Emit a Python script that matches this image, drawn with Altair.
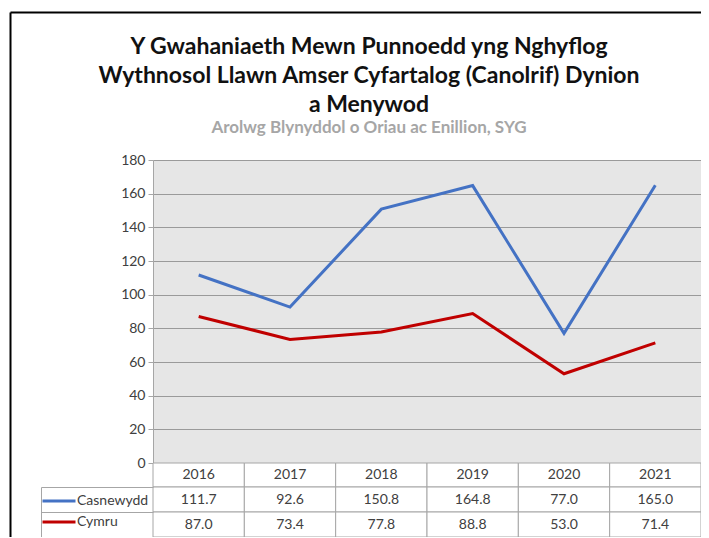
import altair as alt
import pandas as pd

# ---- data ----
years = ["2016", "2017", "2018", "2019", "2020", "2021"]
series_names = ["Casnewydd", "Cymru"]
casnewydd = [111.7, 92.6, 150.8, 164.8, 77.0, 165.0]
cymru = [87.0, 73.4, 77.8, 88.8, 53.0, 71.4]
series_colors = ["#4472C4", "#C00000"]
y_ticks = [0, 20, 40, 60, 80, 100, 120, 140, 160, 180]
title_lines = [
    "Y Gwahaniaeth Mewn Punnoedd yng Nghyflog",
    "Wythnosol Llawn Amser Cyfartalog (Canolrif) Dynion",
    "a Menywod",
]
subtitle_text = "Arolwg Blynyddol o Oriau ac Enillion, SYG"

# ---- layout constants ----
PLOT_W = 548
PLOT_H = 303
HDR_H = 24
ROW_H = 25
TOTAL_H = PLOT_H + HDR_H + 2 * ROW_H
LABEL_COL_W = 112
FONT = "Lato"
TXT = "#404040"
GRID = "#9a9a9a"
BORDER = "#a6a6a6"
PLOT_BG = "#e6e6e6"

long = pd.DataFrame(
    [
        {"year": y, "series": s, "value": v, "label": f"{v:.1f}"}
        for s, vals in zip(series_names, [casnewydd, cymru])
        for y, v in zip(years, vals)
    ]
)
hdr = pd.DataFrame({"year": years, "row": ["hdr"] * len(years)})

xscale = alt.Scale(domain=years, paddingInner=0, paddingOuter=0)
x_enc = alt.X("year:N", scale=xscale, axis=None)

lines = alt.Chart(long).mark_line(strokeWidth=3).encode(
    x=x_enc,
    y=alt.Y(
        "value:Q",
        scale=alt.Scale(domain=[0, 180], range=[PLOT_H, 0], nice=False),
        axis=alt.Axis(
            orient="left", values=y_ticks, grid=True, gridColor=GRID,
            domainColor=BORDER, tickColor=BORDER, tickSize=5, labelPadding=3,
            labelFont=FONT, labelFontSize=14, labelColor=TXT, title=None,
        ),
    ),
    color=alt.Color(
        "series:N",
        scale=alt.Scale(domain=series_names, range=series_colors),
        legend=alt.Legend(
            orient="none", legendX=-108, legendY=327, title=None,
            symbolType="M-1.32,0H1.32", symbolSize=625, symbolStrokeWidth=3,
            labelFont=FONT, labelFontSize=14, labelColor=TXT, labelOffset=4,
            labelBaseline="middle", rowPadding=0, padding=0,
        ),
    ),
)

hdr_base = alt.Chart(hdr).encode(
    x=x_enc,
    y=alt.Y(
        "row:N",
        scale=alt.Scale(domain=["hdr"], range=[PLOT_H, PLOT_H + HDR_H], paddingInner=0, paddingOuter=0),
        axis=None,
    ),
)
header = hdr_base.mark_rect(fill="white", stroke=BORDER, strokeWidth=1) + hdr_base.mark_text(
    font=FONT, fontSize=14, color=TXT
).encode(text="year:N")

rows_scale = alt.Scale(
    domain=series_names, range=[PLOT_H + HDR_H, TOTAL_H], paddingInner=0, paddingOuter=0
)
cells = alt.Chart(long).mark_rect(fill="white", stroke=BORDER, strokeWidth=1).encode(
    x=x_enc,
    y=alt.Y(
        "series:N", scale=rows_scale,
        axis=alt.Axis(
            orient="left", domain=False, labels=False, grid=False, ticks=True,
            tickBand="extent", tickSize=LABEL_COL_W, tickColor=BORDER, title=None,
        ),
    ),
)
values = alt.Chart(long).mark_text(font=FONT, fontSize=14, color=TXT).encode(
    x=x_enc,
    y=alt.Y(
        "series:N", scale=rows_scale,
        axis=alt.Axis(
            orient="left", offset=LABEL_COL_W, domain=True, domainColor=BORDER,
            ticks=False, labels=False, grid=False, title=None,
        ),
    ),
    text="label:N",
)

inner = alt.layer(lines, header, cells, values).resolve_scale(y="independent")

# outer frame (top and left border of the chart area)
frame = alt.Chart(pd.DataFrame({"f": [0]})).mark_point(opacity=0).encode(
    x=alt.X(
        "f:Q", scale=alt.Scale(domain=[0, 1], range=[-143, 560]),
        axis=alt.Axis(orient="top", offset=148, domainColor="black", domainWidth=2,
                      ticks=False, labels=False, grid=False, title=None),
    ),
    y=alt.Y(
        "f:Q", scale=alt.Scale(domain=[0, 1], range=[-148, 400]),
        axis=alt.Axis(orient="left", offset=143, domainColor="black", domainWidth=2,
                      ticks=False, labels=False, grid=False, title=None),
    ),
)

chart = (
    alt.layer(inner, frame)
    .resolve_scale(x="independent", y="independent")
    .properties(
        width=PLOT_W,
        height=TOTAL_H,
        view=alt.ViewBackground(fill=PLOT_BG, stroke=None),
        autosize=alt.AutoSizeParams(type="none"),
        padding={"left": 145, "top": 152, "right": 0, "bottom": 0},
        title=alt.TitleParams(
            text=title_lines, subtitle=subtitle_text, anchor="middle", frame="group",
            dx=-58, offset=-127, font=FONT, fontSize=23, fontWeight="bold", color="#111111",
            lineHeight=29, subtitleFont=FONT, subtitleFontSize=17, subtitleFontWeight="bold",
            subtitleColor="#a6a6a6", subtitlePadding=3,
        ),
    )
    .configure_view(stroke=None, fill=PLOT_BG)
    .configure(font=FONT)
)

chart.save("out.html", embed_options={"renderer": "svg", "actions": False})
